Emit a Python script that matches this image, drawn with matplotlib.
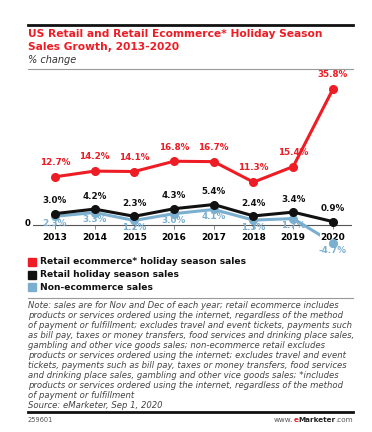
import matplotlib
matplotlib.use("Agg")
import matplotlib.pyplot as plt

W, H = 372, 432

years = [2013, 2014, 2015, 2016, 2017, 2018, 2019, 2020]
ecommerce = [12.7, 14.2, 14.1, 16.8, 16.7, 11.3, 15.4, 35.8]
retail = [3.0, 4.2, 2.3, 4.3, 5.4, 2.4, 3.4, 0.9]
non_ecommerce = [2.3, 3.3, 1.2, 3.0, 4.1, 1.3, 1.7, -4.7]

legend_labels = ["Retail ecommerce* holiday season sales",
                 "Retail holiday season sales",
                 "Non-ecommerce sales"]

RED = "#ee1c24"
BLACK = "#111111"
BLUE = "#7bafd0"

note_lines = [
    "Note: sales are for Nov and Dec of each year; retail ecommerce includes",
    "products or services ordered using the internet, regardless of the method",
    "of payment or fulfillment; excludes travel and event tickets, payments such",
    "as bill pay, taxes or money transfers, food services and drinking place sales,",
    "gambling and other vice goods sales; non-ecommerce retail excludes",
    "products or services ordered using the internet; excludes travel and event",
    "tickets, payments such as bill pay, taxes or money transfers, food services",
    "and drinking place sales, gambling and other vice goods sales; *includes",
    "products or services ordered using the internet, regardless of the method",
    "of payment or fulfillment",
    "Source: eMarketer, Sep 1, 2020",
]

plt.rcParams['font.family'] = ['DejaVu Sans']

fig = plt.figure(figsize=(W / 100, H / 100), dpi=100)


def fx(x):
    return x / W


def fy(y):
    return 1 - y / H


def hline(y, x0, x1, color, lw):
    fig.add_artist(plt.Line2D([fx(x0), fx(x1)], [fy(y), fy(y)],
                              color=color, lw=lw, transform=fig.transFigure))


# header
hline(25, 28, 353, "#111111", 2.0)
fig.text(fx(28), fy(34), "US Retail and Retail Ecommerce* Holiday Season",
         color=RED, fontsize=7.7, fontweight="bold", va="center")
fig.text(fx(28), fy(47), "Sales Growth, 2013-2020",
         color=RED, fontsize=7.7, fontweight="bold", va="center")
fig.text(fx(28), fy(60), "% change", color="#333333", fontsize=7.0,
         style="italic", va="center")
hline(69, 28, 353, "#999999", 0.8)

# chart
ax = fig.add_axes([fx(33), fy(252), fx(352) - fx(33), (252 - 80) / H])
ax.set_xlim(2012.45, 2020.48)
ax.set_ylim(-7.1, 38.2)
for s in ax.spines.values():
    s.set_visible(False)
ax.axhline(0, color="#555555", lw=0.8, zorder=1)
ax.set_yticks([])
ax.set_xticks(years)
ax.set_xticklabels([])
ax.spines["bottom"].set_position(("data", 0))
ax.tick_params(axis="x", length=3, width=0.6, color="#777777")
ax.text(2012.38, 0.4, "0", fontsize=6.2, fontweight="bold", ha="right", va="center")

# year labels with white backing so the falling 2020 line passes behind them
for x in years:
    ax.annotate(str(x), (x, 0), xytext=(0, -5.5), textcoords="offset points",
                ha="center", va="top", fontsize=6.5, fontweight="bold",
                zorder=6, bbox=dict(boxstyle="square,pad=0.1", fc="white",
                                    ec="none"))

ax.plot(years, non_ecommerce, color=BLUE, lw=2.2, marker="o", ms=5.5, zorder=2)
# last point dips below the year row; keep its dot visible
ax.plot(years[-1:], non_ecommerce[-1:], color=BLUE, lw=0, marker="o", ms=5.5,
        zorder=7)
ax.plot(years, retail, color=BLACK, lw=2.2, marker="o", ms=5.5, zorder=3)
ax.plot(years, ecommerce, color=RED, lw=2.2, marker="o", ms=5.5, zorder=4)

for x, v in zip(years, ecommerce):
    ax.annotate(f"{v}%", (x, v), xytext=(0, 7), textcoords="offset points",
                ha="center", va="bottom", color=RED, fontsize=6.3, fontweight="bold")
for x, v in zip(years, retail):
    ax.annotate(f"{v}%", (x, v), xytext=(0, 6), textcoords="offset points",
                ha="center", va="bottom", color=BLACK, fontsize=6.3, fontweight="bold")
for x, v in zip(years, non_ecommerce):
    ax.annotate(f"{v}%", (x, v), xytext=(0, -2), textcoords="offset points",
                ha="center", va="top", color=BLUE, fontsize=6.3, fontweight="bold",
                zorder=6.5)

# legend
for i, (lab, c) in enumerate(zip(legend_labels, [RED, BLACK, BLUE])):
    y = 262 + i * 12.5
    fig.add_artist(plt.Rectangle((fx(28), fy(y + 4)), fx(8), 8 / H, color=c,
                                 transform=fig.transFigure))
    fig.text(fx(40), fy(y), lab, fontsize=6.6, fontweight="bold", va="center",
             color="#111111")

hline(298, 28, 353, "#999999", 0.8)

for i, line in enumerate(note_lines):
    fig.text(fx(28), fy(306 + i * 10.0), line, fontsize=6.1, style="italic",
             color="#444444", va="center")

hline(412, 28, 353, "#111111", 2.0)
fig.text(fx(28), fy(420), "259601", fontsize=4.8, color="#555555", va="center")

# www.eMarketer.com, built right to left
renderer = fig.canvas.get_renderer()
right = 353
parts = [(".com", "normal", "#555555"), ("Marketer", "bold", "#222222"),
         ("e", "bold", RED), ("www.", "normal", "#555555")]
for txt, wt, col in parts:
    t = fig.text(fx(right), fy(420), txt, fontsize=5.2, fontweight=wt,
                 color=col, va="center", ha="right")
    right -= t.get_window_extent(renderer).width

fig.savefig("out.png", dpi=100)
